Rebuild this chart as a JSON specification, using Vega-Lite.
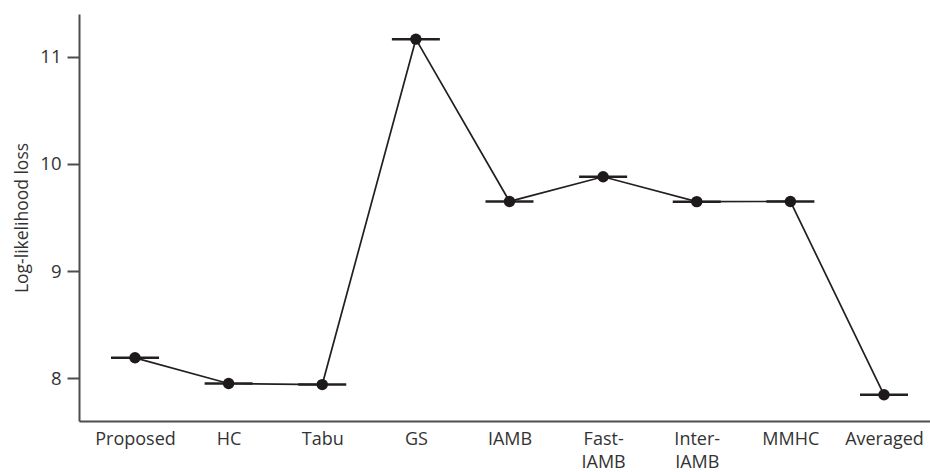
{
  "$schema": "https://vega.github.io/schema/vega-lite/v6.json",
  "autosize": "none",
  "width": 851,
  "height": 407,
  "padding": {"left": 79, "top": 14, "right": 0, "bottom": 51},
  "background": "white",
  "config": {
    "view": {"stroke": null},
    "font": "Open Sans",
    "axis": {"grid": false, "domainColor": "#4d4d4d", "domainWidth": 2, "tickColor": "#4d4d4d", "tickWidth": 2, "labelColor": "#333333", "titleColor": "#333333", "labelFont": "Open Sans", "titleFont": "Open Sans"}
  },
  "data": {
    "values": [
      {"method": "Proposed", "loss": 8.19},
      {"method": "HC", "loss": 7.95},
      {"method": "Tabu", "loss": 7.94},
      {"method": "GS", "loss": 11.165},
      {"method": "IAMB", "loss": 9.65},
      {"method": "Fast-IAMB", "loss": 9.88},
      {"method": "Inter-IAMB", "loss": 9.648},
      {"method": "MMHC", "loss": 9.65},
      {"method": "Averaged", "loss": 7.845}
    ]
  },
  "encoding": {
    "x": {
      "field": "method", "type": "ordinal", "sort": null,
      "scale": {"type": "point", "padding": 0.5447, "align": 0.549},
      "axis": {
        "title": null, "ticks": false, "tickSize": 0, "labelAngle": 0, "labelFontSize": 18,
        "labelPadding": 9, "labelBaseline": "top", "labelLineHeight": 23,
        "labelExpr": "datum.label == 'Fast-IAMB' ? ['Fast-', 'IAMB'] : datum.label == 'Inter-IAMB' ? ['Inter-', 'IAMB'] : datum.label"
      }
    },
    "y": {
      "field": "loss", "type": "quantitative",
      "scale": {"domain": [7.6, 11.4], "nice": false, "zero": false},
      "axis": {
        "title": "Log-likelihood loss", "titleFontSize": 17.5, "titleFontWeight": "normal",
        "values": [8, 9, 10, 11], "tickSize": 12, "labelFontSize": 18.5, "labelPadding": 6, "titlePadding": 8
      }
    }
  },
  "layer": [
    {"mark": {"type": "line", "color": "#231f20", "strokeWidth": 1.7}},
    {"mark": {"type": "tick", "orient": "horizontal", "color": "#231f20", "opacity": 1, "size": 48, "thickness": 2.5}},
    {"mark": {"type": "circle", "color": "#1e1a1b", "opacity": 1, "size": 130}}
  ]
}
